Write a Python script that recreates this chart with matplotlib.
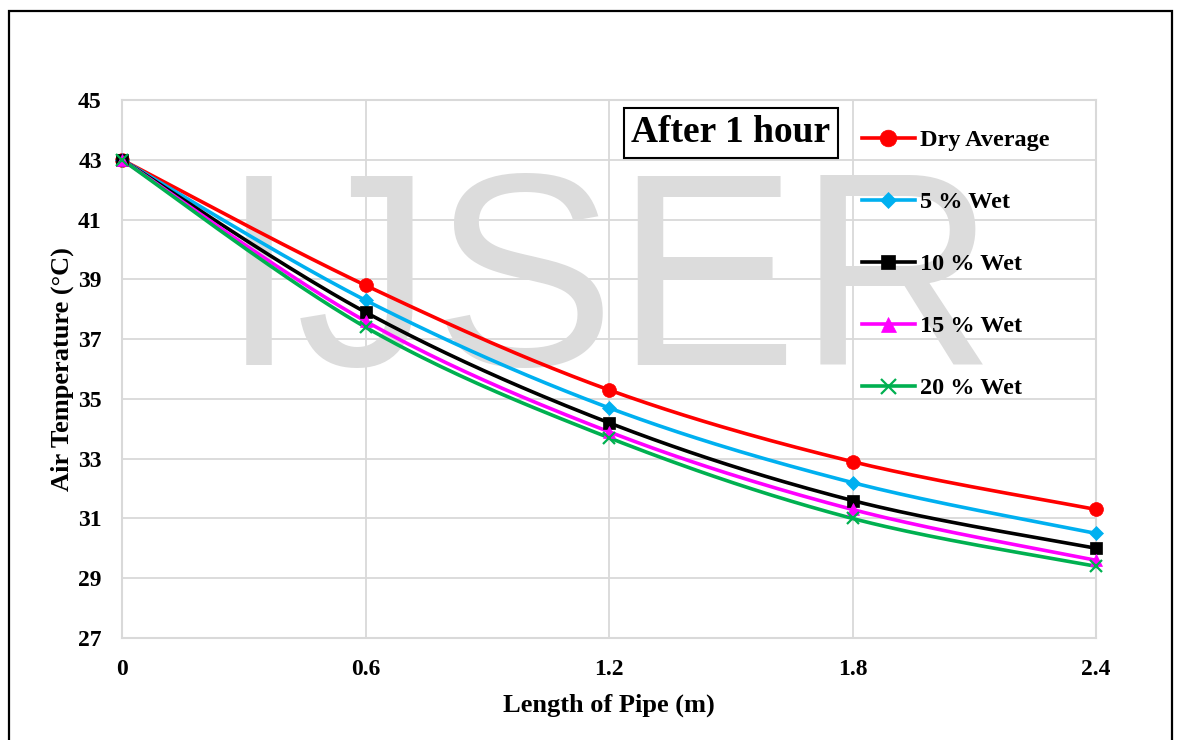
import numpy as np
import matplotlib
matplotlib.use("Agg")
import matplotlib.pyplot as plt
from matplotlib.patches import Rectangle


# Values.
LENGTH = [0, 0.6, 1.2, 1.8, 2.4]
DRY_AVERAGE = [43.0, 38.8, 35.3, 32.9, 31.3]
WET_5 = [43.0, 38.3, 34.7, 32.2, 30.5]
WET_10 = [43.0, 37.9, 34.2, 31.6, 30.0]
WET_15 = [43.0, 37.6, 33.9, 31.3, 29.6]
WET_20 = [43.0, 37.4, 33.7, 31.0, 29.4]
LABELS = ["Dry Average", "5 % Wet", "10 % Wet", "15 % Wet", "20 % Wet"]
Y_TICKS = [27, 29, 31, 33, 35, 37, 39, 41, 43, 45]
X_TICKS = [0, 0.6, 1.2, 1.8, 2.4]
X_TICKLABELS = ["0", "0.6", "1.2", "1.8", "2.4"]

COLORS = ["#ff0000", "#00b0f0", "#000000", "#ff00ff", "#00b050"]
MARKERS = ["o", "D", "s", "^", "x"]
MSIZES = [10, 7, 8.5, 9, 9]


def smooth(x, y, n=40):
    """ Excel-like smoothed line through the points (cardinal Bezier). """
    x = np.asarray(x, float)
    y = np.asarray(y, float)
    px = np.concatenate([[x[0]], x, [x[-1]]])
    py = np.concatenate([[y[0]], y, [y[-1]]])
    xs, ys = [], []
    t = np.linspace(0, 1, n)
    for i in range(1, len(px) - 2):
        p0 = np.array([px[i], py[i]])
        p3 = np.array([px[i + 1], py[i + 1]])
        p1 = p0 + (p3 - np.array([px[i - 1], py[i - 1]])) / 6
        p2 = p3 - (np.array([px[i + 2], py[i + 2]]) - p0) / 6
        b = ((1 - t) ** 3)[:, None] * p0 + (3 * (1 - t) ** 2 * t)[:, None] * p1 \
            + (3 * (1 - t) * t ** 2)[:, None] * p2 + (t ** 3)[:, None] * p3
        xs.append(b[:, 0])
        ys.append(b[:, 1])
    return np.concatenate(xs), np.concatenate(ys)


plt.rcParams["font.family"] = ["Liberation Serif", "DejaVu Serif"]
plt.rcParams["font.weight"] = "bold"

W, H = 1181, 740
fig = plt.figure(figsize=(W / 100, H / 100), dpi=100)
ax = fig.add_axes([122 / W, 1 - 638 / H, (1096 - 122) / W, (638 - 100) / H])

# Outer frame of the figure (bottom edge cut off).
fig.patches.append(Rectangle((9 / W, -0.05), (1172 - 9) / W, 1.05 - 11 / H,
                             transform=fig.transFigure, fill=False,
                             edgecolor="black", linewidth=1.6))

ax.set_xlim(0, 2.4)
ax.set_ylim(27, 45)
ax.set_xticks(X_TICKS)
ax.set_xticklabels(X_TICKLABELS)
ax.set_yticks(Y_TICKS)
ax.tick_params(length=0, labelsize=17)
ax.tick_params(axis="y", pad=14.5)
ax.tick_params(axis="x", pad=15)
ax.grid(True, color="#d9d9d9", linewidth=1.3)
ax.set_axisbelow(True)
for s in ax.spines.values():
    s.set_color("#d9d9d9")
    s.set_linewidth(1.5)

# Watermark
ax.text(0.5, 0.639, "IJSER", transform=ax.transAxes, ha="center",
        va="center", fontsize=197, color="#dcdcdc",
        family="Liberation Sans", fontweight="normal", zorder=1)

series = [DRY_AVERAGE, WET_5, WET_10, WET_15, WET_20]
handles = []
for vals, lab, c, m, ms in zip(series, LABELS, COLORS, MARKERS, MSIZES):
    sx, sy = smooth(LENGTH, vals)
    mew = 1.6 if m == "x" else 0.5
    ax.plot(sx, sy, color=c, linewidth=2.6, zorder=3, clip_on=False)
    ax.plot(LENGTH, vals, linestyle="none", marker=m, color=c,
            markersize=ms, markeredgewidth=mew, zorder=4, clip_on=False)
    h, = ax.plot([], [], color=c, linewidth=2.6, marker=m, markersize=ms,
                 markeredgewidth=mew)
    handles.append(h)

ax.legend(handles, LABELS, loc="upper left",
          bbox_to_anchor=(862 / W, 1 - 129 / H),
          bbox_transform=fig.transFigure, frameon=False, fontsize=17.5,
          borderaxespad=0, borderpad=0, labelspacing=1.65,
          handlelength=2.18, handletextpad=0.2, markerscale=1.2)

ax.annotate("After 1 hour", xy=(731 / W, 1 - 133 / H),
            xycoords="figure fraction", ha="center", va="center",
            fontsize=27, fontweight="bold",
            bbox=dict(boxstyle="square,pad=0.2", facecolor="white",
                      edgecolor="black", linewidth=1.5))

ax.set_xlabel("Length of Pipe (m)", fontsize=19, fontweight="bold",
              labelpad=10)
ax.set_ylabel("Air Temperature (°C)", fontsize=19, fontweight="bold",
              labelpad=3)

fig.savefig("out.png", dpi=100)
